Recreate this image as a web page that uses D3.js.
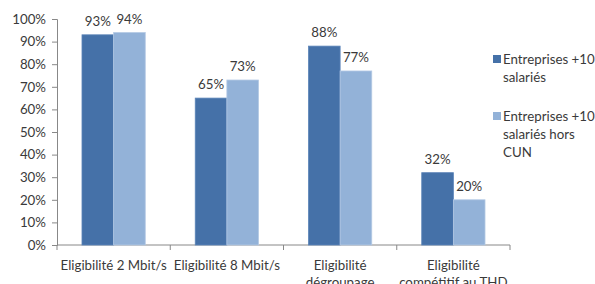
<!DOCTYPE html>
<html><head><meta charset="utf-8">
<script src="https://cdn.jsdelivr.net/npm/d3@7"></script>
<style>body{margin:0;background:#fff}svg{display:block}text{font-family:Lato,"Open Sans",sans-serif;fill:#3a3a3a}</style>
</head><body>
<svg id="c" width="595" height="284"></svg>
<script>
const categories = [["Eligibilité 2 Mbit/s"],["Eligibilité 8 Mbit/s"],["Eligibilité","dégroupage"],["Eligibilité","compétitif au THD"]];
const seriesNames = [["Entreprises +10","salariés"],["Entreprises +10","salariés hors","CUN"]];
const series1 = [93, 65, 88, 32];
const series2 = [94, 73, 77, 20];
const yTicks = [0,10,20,30,40,50,60,70,80,90,100];
const colors = ["#4571A8", "#93B2D8"];

const svg = d3.select("#c");
const mLeft = 57, mRight = 510, mTop = 19, mBottom = 245;
const x = d3.scaleBand().domain(d3.range(categories.length)).range([mLeft, mRight]).paddingInner(0).paddingOuter(0);
const y = d3.scaleLinear().domain([0, 100]).range([mBottom, mTop]);
const sub = d3.scaleBand().domain([0,1]).range([0, x.bandwidth()]).paddingInner(0).paddingOuter(0.79);

const fs = 13.3;
const ff = 'Lato, "Open Sans", sans-serif';
// y axis
const ya = svg.append("g").attr("transform", `translate(${mLeft},0)`).call(d3.axisLeft(y).tickValues(yTicks).tickSize(5).tickFormat(d => d + "%"));
ya.select(".domain").attr("stroke", "#888");
ya.selectAll(".tick line").attr("stroke", "#888");
ya.selectAll(".tick text").attr("x", -11).style("font-size", fs + "px").style("font-family", ff).attr("fill", "#3a3a3a");

// x axis
const xa = svg.append("g").attr("transform", `translate(0,${mBottom})`);
xa.append("line").attr("x1", mLeft).attr("x2", mRight).attr("stroke", "#888");
const bounds = d3.range(categories.length + 1).map(i => i < categories.length ? x(i) : x(i-1) + x.bandwidth());
xa.selectAll("line.t").data(bounds).join("line").attr("class","t")
  .attr("x1", d => d).attr("x2", d => d).attr("y1", 0).attr("y2", 5).attr("stroke", "#888");
categories.forEach((lines, i) => {
  const t = xa.append("text").attr("text-anchor", "middle").style("font-size", fs + "px")
    .attr("x", x(i) + x.bandwidth()/2).attr("y", 25);
  lines.forEach((l, j) => t.append("tspan").attr("x", x(i) + x.bandwidth()/2).attr("dy", j ? 17 : 0).text(l));
});

// bars
[series1, series2].forEach((s, si) => {
  const g = svg.append("g");
  g.selectAll("rect").data(s).join("rect")
    .attr("x", (d, i) => x(i) + sub(si))
    .attr("width", sub.bandwidth())
    .attr("y", d => y(d))
    .attr("height", d => mBottom - y(d))
    .attr("fill", colors[si])
    .attr("stroke", si ? "#b4c9e4" : "#5b84b8").attr("stroke-width", 0.8);
  g.selectAll("text").data(s).join("text")
    .attr("x", (d, i) => x(i) + sub(si) + sub.bandwidth()/2)
    .attr("y", d => y(d) - 9)
    .attr("text-anchor", "middle").style("font-size", fs + "px")
    .text(d => d + "%");
});

// legend
const legY = [64, 121];
seriesNames.forEach((lines, si) => {
  svg.append("rect").attr("x", 493).attr("y", legY[si] - 9).attr("width", 8).attr("height", 8).attr("fill", colors[si]);
  const t = svg.append("text").attr("x", 503).attr("y", legY[si]).style("font-size", fs + "px");
  lines.forEach((l, j) => t.append("tspan").attr("x", 503).attr("dy", j ? 18 : 0).text(l));
});
</script>
</body></html>
